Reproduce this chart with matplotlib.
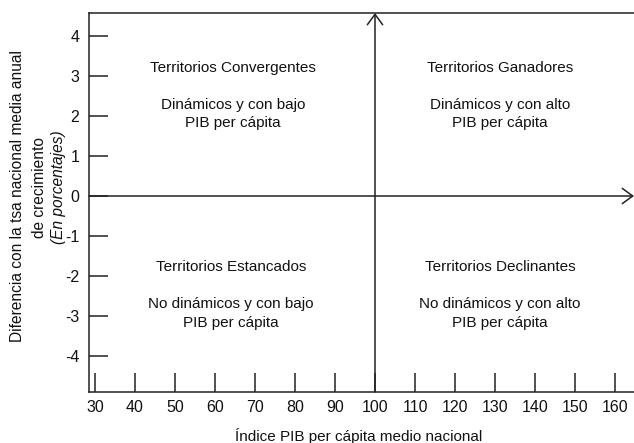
import matplotlib
matplotlib.use("Agg")
import matplotlib.pyplot as plt

plt.rcParams['font.family'] = ['Liberation Sans', 'DejaVu Sans']

# ejes y ticks
x_ticks = [30, 40, 50, 60, 70, 80, 90, 100, 110, 120, 130, 140, 150, 160]
y_ticks = [-4, -3, -2, -1, 0, 1, 2, 3, 4]
y_tick_labels = ["-4", "-3", "-2", "-1", "0", "1", "2", "3", "4"]

# cuadrantes
quad_titles = ["Territorios Convergentes", "Territorios Ganadores",
               "Territorios Estancados", "Territorios Declinantes"]
quad_desc = ["Dinámicos y con bajo\nPIB per cápita",
             "Dinámicos y con alto\nPIB per cápita",
             "No dinámicos y con bajo\nPIB per cápita",
             "No dinámicos y con alto\nPIB per cápita"]

x_center = 100
y_center = 0
xlim = (28.5, 164.75)
ylim = (-4.9, 4.575)

fig = plt.figure(figsize=(6.34, 4.43), dpi=100)
ax = fig.add_axes([89 / 634, 1 - 392 / 443, (634 - 89) / 634, (392 - 13) / 443])
ax.set_xlim(*xlim)
ax.set_ylim(*ylim)

col = "#222222"
txt = "#111111"
for s in ["top", "left", "bottom"]:
    ax.spines[s].set_color(col)
    ax.spines[s].set_linewidth(1.1)
ax.spines["right"].set_visible(False)

ax.set_xticks(x_ticks)
ax.set_xticklabels([str(t) for t in x_ticks])
ax.set_yticks(y_ticks)
ax.set_yticklabels(y_tick_labels)
ax.tick_params(axis="x", direction="in", length=14, width=1.1, color=col,
               labelsize=11.5, pad=6, labelcolor=txt)
ax.tick_params(axis="y", direction="in", length=14, width=1.1, color=col,
               labelsize=11.5, pad=7, labelcolor=txt)

# flechas de los ejes centrales
arrow = "->,head_length=0.75,head_width=0.55"
ax.annotate("", xy=(xlim[1], y_center), xytext=(xlim[0], y_center),
            arrowprops=dict(arrowstyle=arrow, color=col, lw=1.1,
                            shrinkA=0, shrinkB=0),
            annotation_clip=False)
ax.annotate("", xy=(x_center, ylim[1]), xytext=(x_center, ylim[0]),
            arrowprops=dict(arrowstyle=arrow, color=col, lw=1.1,
                            shrinkA=0, shrinkB=0),
            annotation_clip=False)

title_pos = [(64.5, 3.2), (131.25, 3.2), (64.0, -1.78), (131.25, -1.78)]
desc_pos = [(64.5, 2.05), (131.25, 2.05), (64.0, -2.94), (131.25, -2.94)]
for t, d, tp, dp in zip(quad_titles, quad_desc, title_pos, desc_pos):
    ax.text(tp[0], tp[1], t, ha="center", va="center", fontsize=11, color=txt)
    ax.text(dp[0], dp[1], d, ha="center", va="center", fontsize=11,
            color=txt, linespacing=1.4)

fig.text(359 / 634, 1 - 436 / 443, "Índice PIB per cápita medio nacional",
         ha="center", va="center", fontsize=11, color=txt)

fig.text(18 / 634, 1 - 196 / 443, "Diferencia con la tsa nacional media anual",
         rotation=90, ha="center", va="center", fontsize=11.2, color=txt)
fig.text(40 / 634, 1 - 187 / 443, "de crecimiento",
         rotation=90, ha="center", va="center", fontsize=11.2, color=txt)
fig.text(59 / 634, 1 - 187 / 443, "(En porcentajes)", style="italic",
         rotation=90, ha="center", va="center", fontsize=11.2, color=txt)

fig.savefig("out.png", dpi=100)
